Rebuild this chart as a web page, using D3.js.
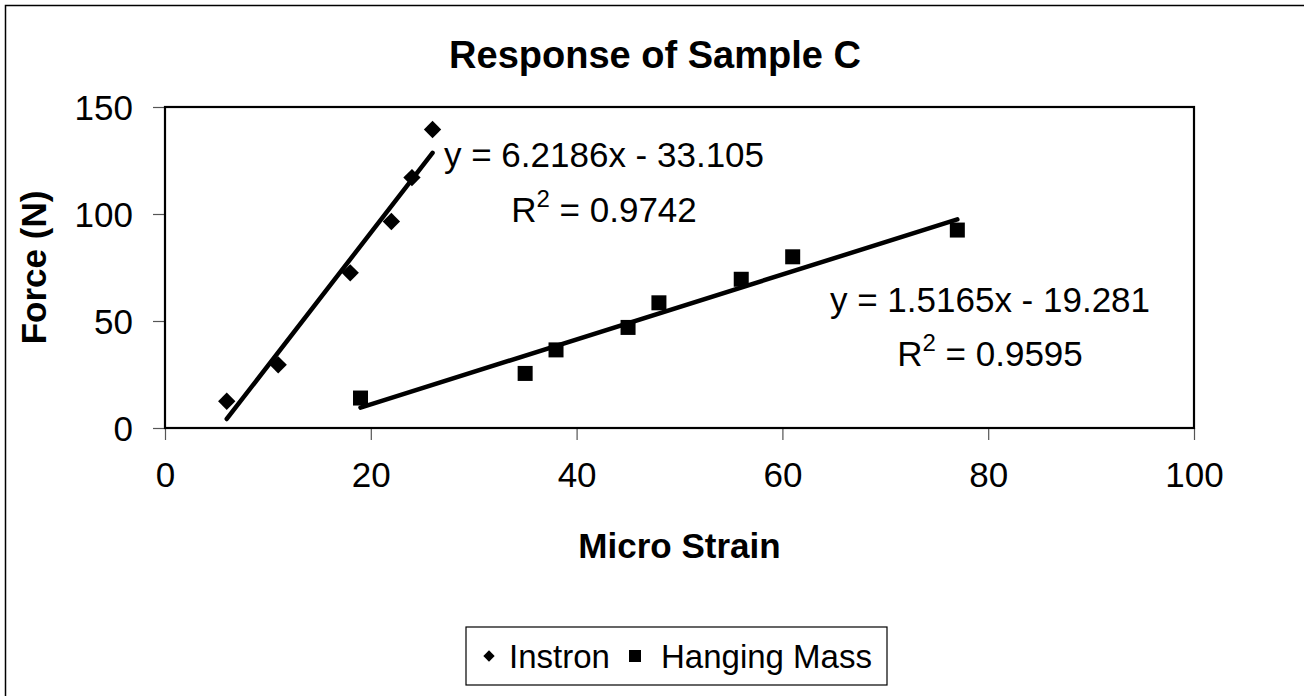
<!DOCTYPE html>
<html>
<head>
<meta charset="utf-8">
<script src="https://cdn.jsdelivr.net/npm/d3@7"></script>
<style>
  body { margin: 0; background: #fff; }
  svg { display: block; font-family: "Liberation Sans", Arial, sans-serif; }
</style>
</head>
<body>
<svg id="chart" width="1304" height="696"></svg>
<script>
const title = "Response of Sample C";
const xTitle = "Micro Strain";
const yTitle = "Force (N)";
const seriesNames = ["Instron", "Hanging Mass"];

const instronX = [6, 11, 18, 22, 24, 26];
const instronY = [12.5, 29.5, 72.5, 96.5, 117, 139.5];
const hangingX = [19, 35, 38, 45, 48, 56, 61, 77];
const hangingY = [14, 25.5, 36.5, 47, 58.5, 69.5, 80, 92.5];

const fitSlope = [6.2186, 1.5165];
const fitIntercept = [-33.105, -19.281];
const fitR2 = ["0.9742", "0.9595"];

const xTicks = [0, 20, 40, 60, 80, 100];
const yTicks = [0, 50, 100, 150];

const svg = d3.select("#chart");
const plot = { left: 165, right: 1194, top: 107, bottom: 428 };

const x = d3.scaleLinear().domain([0, 100]).range([plot.left, plot.right]);
const y = d3.scaleLinear().domain([0, 150]).range([plot.bottom, plot.top]);

// outer chart border (right/bottom fall outside the view)
svg.append("rect").attr("x", 5.5).attr("y", 5.5).attr("width", 1310).attr("height", 700)
  .attr("fill", "none").attr("stroke", "#000").attr("stroke-width", 1.5);

// title
svg.append("text").attr("x", 655).attr("y", 68).attr("text-anchor", "middle")
  .attr("font-size", 38).attr("font-weight", "bold").text(title);

// axes
const xAxis = d3.axisBottom(x).tickValues(xTicks).tickSize(12).tickPadding(22).tickFormat(d3.format("d"));
const yAxis = d3.axisLeft(y).tickValues(yTicks).tickSize(12).tickPadding(20).tickFormat(d3.format("d"));

const gx = svg.append("g").attr("transform", `translate(0,${plot.bottom})`).call(xAxis);
const gy = svg.append("g").attr("transform", `translate(${plot.left},0)`).call(yAxis);
[gx, gy].forEach(g => {
  g.select(".domain").remove();
  g.selectAll(".tick line").attr("stroke", "#555").attr("stroke-width", 1.2);
  g.selectAll(".tick text").attr("font-size", 35).attr("fill", "#000")
    .attr("font-family", "'Liberation Sans', Arial, sans-serif");
});
gx.selectAll(".tick text").attr("dy", "0.71em");
gy.selectAll(".tick text").attr("dy", "0.35em");

// plot area frame
svg.append("rect").attr("x", plot.left).attr("y", plot.top)
  .attr("width", plot.right - plot.left).attr("height", plot.bottom - plot.top)
  .attr("fill", "none").attr("stroke", "#000").attr("stroke-width", 2.2);

// axis titles
svg.append("text").attr("x", (plot.left + plot.right) / 2).attr("y", 558)
  .attr("text-anchor", "middle").attr("font-size", 35).attr("font-weight", "bold").text(xTitle);
svg.append("text").attr("transform", `translate(46,${(plot.top + plot.bottom) / 2}) rotate(-90)`)
  .attr("text-anchor", "middle").attr("font-size", 35).attr("font-weight", "bold").text(yTitle);

// trendlines
const seriesX = [instronX, hangingX];
seriesX.forEach((xs, i) => {
  const x0 = d3.min(xs), x1 = d3.max(xs);
  svg.append("line")
    .attr("x1", x(x0)).attr("y1", y(fitSlope[i] * x0 + fitIntercept[i]))
    .attr("x2", x(x1)).attr("y2", y(fitSlope[i] * x1 + fitIntercept[i]))
    .attr("stroke", "#000").attr("stroke-width", 4.5).attr("stroke-linecap", "round");
});

// markers
const diamond = d3.symbol().type(d3.symbolSquare).size(150);
svg.append("g").selectAll("path").data(d3.zip(instronX, instronY)).join("path")
  .attr("d", diamond)
  .attr("transform", d => `translate(${x(d[0])},${y(d[1])}) rotate(45)`)
  .attr("fill", "#000");
svg.append("g").selectAll("rect").data(d3.zip(hangingX, hangingY)).join("rect")
  .attr("x", d => x(d[0]) - 7.5).attr("y", d => y(d[1]) - 7.5)
  .attr("width", 15).attr("height", 15).attr("fill", "#000");

// equation labels
const eqPos = [{ cx: 604, y1: 167, y2: 222 }, { cx: 990, y1: 312, y2: 366 }];
eqPos.forEach((p, i) => {
  const b = fitIntercept[i];
  svg.append("text").attr("x", p.cx).attr("y", p.y1).attr("text-anchor", "middle")
    .attr("font-size", 35).text(`y = ${fitSlope[i].toFixed(4)}x ${b < 0 ? "-" : "+"} ${Math.abs(b).toFixed(3)}`);
  const t = svg.append("text").attr("x", p.cx).attr("y", p.y2).attr("text-anchor", "middle")
    .attr("font-size", 35);
  t.append("tspan").text("R");
  t.append("tspan").attr("dy", -15).attr("font-size", 24).text("2");
  t.append("tspan").attr("dy", 15).text(` = ${fitR2[i]}`);
});

// legend
const lg = svg.append("g");
lg.append("rect").attr("x", 466).attr("y", 627).attr("width", 421).attr("height", 58)
  .attr("fill", "#fff").attr("stroke", "#000").attr("stroke-width", 1.2);
lg.append("path").attr("d", d3.symbol().type(d3.symbolSquare).size(64))
  .attr("transform", "translate(489,656) rotate(45)").attr("fill", "#000");
lg.append("text").attr("x", 509).attr("y", 668).attr("font-size", 33).text(seriesNames[0]);
lg.append("rect").attr("x", 629).attr("y", 650).attr("width", 12).attr("height", 12).attr("fill", "#000");
lg.append("text").attr("x", 661).attr("y", 668).attr("font-size", 33).text(seriesNames[1]);
</script>
</body>
</html>
